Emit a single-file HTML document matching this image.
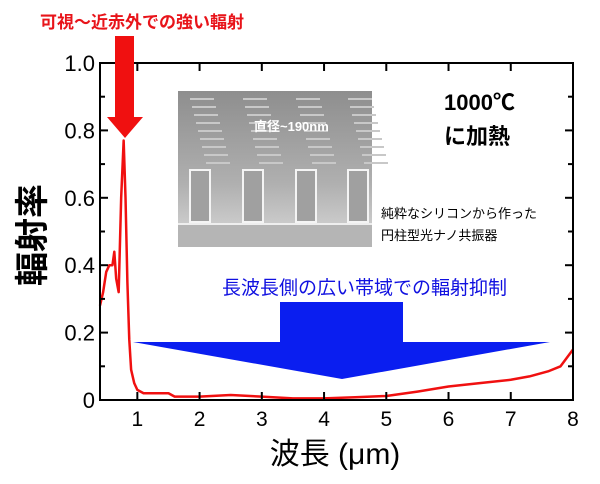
<!DOCTYPE html>
<html><head><meta charset="utf-8"><style>
body{margin:0;background:#fff;width:600px;height:484px;overflow:hidden}
svg{display:block}
text{font-family:"Liberation Sans","Noto Sans CJK JP",sans-serif}
</style></head><body>
<svg id="c" width="600" height="484">
<defs>
<linearGradient id="sem" x1="0" y1="0" x2="0" y2="1">
<stop offset="0" stop-color="#8e8e8e"/><stop offset="0.6" stop-color="#b0b0b0"/><stop offset="0.85" stop-color="#cacaca"/><stop offset="1" stop-color="#a8a8a8"/></linearGradient>
</defs>
<g id="inset">
<rect x="178" y="91" width="194" height="156" fill="url(#sem)"/>
<rect x="178" y="225" width="194" height="22" fill="#b5b5b5"/>
<line x1="178" y1="224" x2="372" y2="224" stroke="#eee" stroke-width="2"/>
</g>
<g id="plot"></g>
<text x="40" y="28" font-size="17" font-weight="bold" fill="#e8141a">可視～近赤外での強い輻射</text>
<polygon points="115,36 134,36 134,117 143,117 125,138 107,117 115,117" fill="#f01010"/>
<text x="254" y="131" font-size="13" font-weight="bold" fill="#fff">直径~190nm</text>
<text x="444" y="110" font-size="22" font-weight="bold" fill="#000">1000℃</text>
<text x="444" y="144" font-size="22" font-weight="bold" fill="#000">に加熱</text>
<text x="381" y="218" font-size="13" fill="#000">純粋なシリコンから作った</text>
<text x="381" y="240" font-size="13" fill="#000">円柱型光ナノ共振器</text>
<text x="222" y="294" font-size="19" fill="#1010e0">長波長側の広い帯域での輻射抑制</text>
<polygon points="133,342 280,342 280,302 403,302 403,342 550,342 342,379" fill="#0a1ef0"/>
<text transform="translate(44,235) rotate(-90)" text-anchor="middle" font-size="34" font-weight="bold">輻射率</text>
<text x="335" y="464" text-anchor="middle" font-size="30">波長 (μm)</text>
</svg>
<script>
const xs=[0.4,0.45,0.5,0.55,0.6,0.63,0.66,0.7,0.74,0.78,0.81,0.84,0.87,0.9,0.95,1.0,1.1,1.3,1.5,1.6,2,2.5,3,3.5,4,4.5,5,5.5,6,6.5,7,7.3,7.6,7.8,8];
const ys=[0.28,0.32,0.38,0.40,0.40,0.44,0.36,0.32,0.6,0.77,0.6,0.35,0.18,0.09,0.05,0.03,0.02,0.02,0.02,0.01,0.01,0.015,0.01,0.005,0.005,0.008,0.012,0.025,0.04,0.05,0.06,0.07,0.085,0.1,0.15];
const xTicks=[1,2,3,4,5,6,7,8];
const yTicks=[0,0.2,0.4,0.6,0.8,1.0];
const yTickLabels=["0","0.2","0.4","0.6","0.8","1.0"];
const X0=100,X1=573,Y0=400,Y1=63,xmin=0.4,xmax=8;
const sx=v=>X0+(v-xmin)/(xmax-xmin)*(X1-X0);
const sy=v=>Y0-v*(Y0-Y1);
const g=document.getElementById('plot');
const NS='http://www.w3.org/2000/svg';
function mk(t,a){const e=document.createElementNS(NS,t);for(const k in a)e.setAttribute(k,a[k]);g.appendChild(e);return e;}
const line=mk('polyline',{points:xs.map((x,i)=>sx(x)+','+sy(ys[i])).join(' '),fill:'none',stroke:'#f01010','stroke-width':2.5,'stroke-linejoin':'round'});


const fr=mk('rect',{x:X0,y:Y1,width:X1-X0,height:Y0-Y1,fill:'none',stroke:'#000','stroke-width':2});


xTicks.forEach(v=>{
 mk('line',{x1:sx(v),x2:sx(v),y1:Y0,y2:Y0-8,stroke:'#000','stroke-width':2});
 mk('line',{x1:sx(v),x2:sx(v),y1:Y1,y2:Y1+8,stroke:'#000','stroke-width':2});
 const t=mk('text',{x:sx(v),y:Y0+26,'text-anchor':'middle','font-size':21});t.textContent=v;
 
 
});
for(let v=0;v<=1.001;v+=0.1){
 const L=Math.abs(v*10-Math.round(v*5)*2)<0.01?8:5;
 mk('line',{x1:X0,x2:X0+L,y1:sy(v),y2:sy(v),stroke:'#000','stroke-width':2});
 mk('line',{x1:X1,x2:X1-L,y1:sy(v),y2:sy(v),stroke:'#000','stroke-width':2});
}
yTicks.forEach((v,i)=>{
 const t=mk('text',{x:X0-5,y:sy(v)+8,'text-anchor':'end','font-size':22});t.textContent=yTickLabels[i];
 
 
});
const ins=document.getElementById('inset');
[190,243,296,348].forEach(px=>{
 for(let k=0;k<9;k++){const r=document.createElementNS(NS,'rect');r.setAttribute('x',px+k*2);r.setAttribute('y',98+k*8);r.setAttribute('width',24);r.setAttribute('height',2);r.setAttribute('fill','#c8c8c8');ins.appendChild(r);}
 const p=document.createElementNS(NS,'rect');p.setAttribute('x',px);p.setAttribute('y',170);p.setAttribute('width',20);p.setAttribute('height',52);p.setAttribute('fill','#a0a0a0');p.setAttribute('stroke','#f4f4f4');p.setAttribute('stroke-width',2);ins.appendChild(p);
});
</script>
</body></html>
